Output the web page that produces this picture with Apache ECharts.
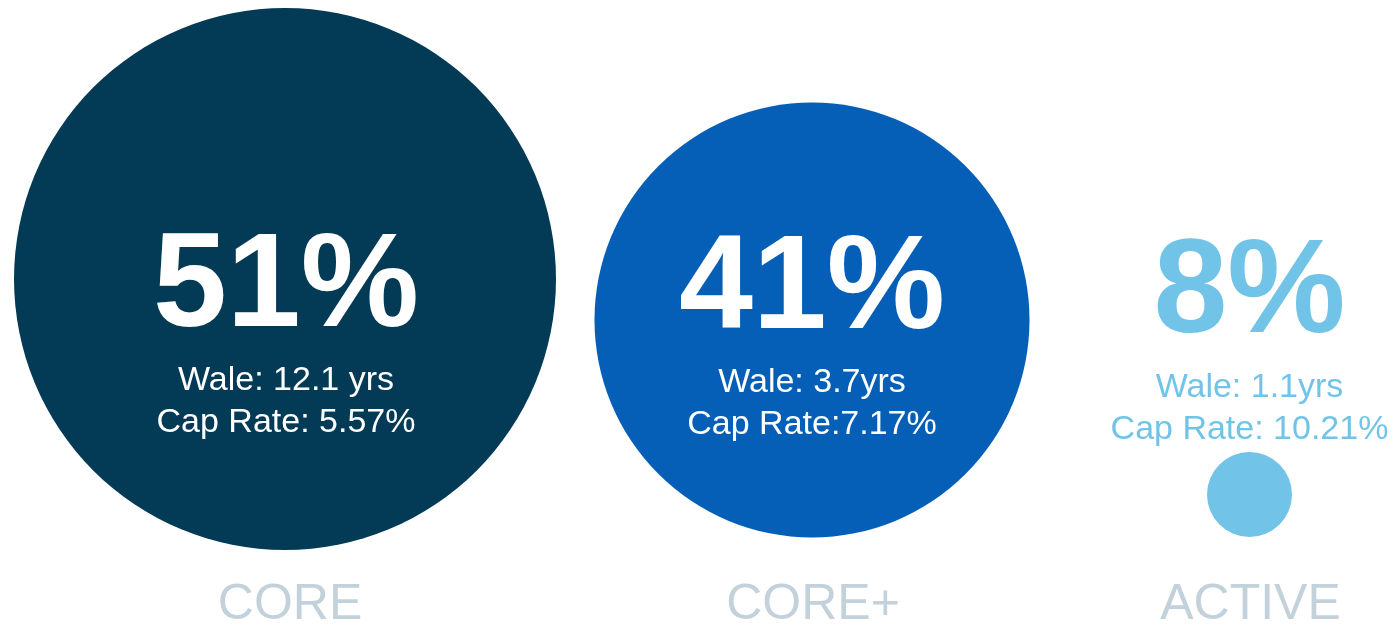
<!DOCTYPE html>
<html>
<head>
<meta charset="utf-8">
<title>Portfolio allocation by strategy</title>
<script src="https://cdn.jsdelivr.net/npm/echarts@6/dist/echarts.min.js"></script>
<style>
  html, body { margin: 0; padding: 0; background: #ffffff; }
  #chart { width: 1394px; height: 626px; }
</style>
</head>
<body>
<div id="chart"></div>
<script>
// Portfolio split by strategy
const categories = ['CORE', 'CORE+', 'ACTIVE'];
const shares = [51, 41, 8];                 // % of portfolio
const waleLabels = ['Wale: 12.1 yrs', 'Wale: 3.7yrs', 'Wale: 1.1yrs'];
const capRateLabels = ['Cap Rate: 5.57%', 'Cap Rate:7.17%', 'Cap Rate: 10.21%'];

// Presentation: bubble placement (in a 1394 x 626 frame), diameters, colours
const bubbleCenters = [[285, 279], [812, 320], [1249.5, 494.5]];
const bubbleDiameters = [542, 435, 85];
const bubbleColors = ['#033a56', '#055fb6', '#71c4e8'];
const textColors = ['#ffffff', '#ffffff', '#71c4e8'];
const labelOffsets = [[1, 52], [0, 13], [0, -157]];
const nameRowY = 605;
const nameColor = '#c3d1db';
const FONT = '"Liberation Sans", Arial, sans-serif';

const bubbleData = categories.map((name, i) => ({
  name: name,
  value: [bubbleCenters[i][0], bubbleCenters[i][1], shares[i]],
  symbolSize: bubbleDiameters[i],
  itemStyle: { color: bubbleColors[i], opacity: 1 },
  label: {
    show: true,
    position: 'inside',
    offset: labelOffsets[i],
    formatter: () => '{pct|' + shares[i] + '%}\n{sub|' + waleLabels[i] + '}\n{sub|' + capRateLabels[i] + '}',
    rich: {
      pct: { fontFamily: FONT, fontWeight: 'bold', fontSize: 133, lineHeight: 142, color: textColors[i], align: 'center' },
      sub: { fontFamily: FONT, fontSize: 34, lineHeight: 42, color: textColors[i], align: 'center' }
    }
  }
}));

const nameData = categories.map((name, i) => ({
  name: name,
  value: [bubbleCenters[i][0] + (i === 0 ? 5 : 1), nameRowY]
}));

const chart = echarts.init(document.getElementById('chart'), null, { renderer: 'canvas' });
chart.setOption({
  animation: false,
  backgroundColor: '#ffffff',
  grid: { left: 0, right: 0, top: 0, bottom: 0 },
  xAxis: { type: 'value', min: 0, max: 1394, show: false },
  yAxis: { type: 'value', min: 0, max: 626, inverse: true, show: false },
  series: [
    {
      type: 'scatter',
      data: bubbleData,
      emphasis: { disabled: true }
    },
    {
      type: 'scatter',
      symbolSize: 0,
      itemStyle: { opacity: 1 },
      data: nameData,
      label: {
        show: true,
        position: 'inside',
        formatter: (p) => p.name,
        fontFamily: FONT,
        fontSize: 50,
        color: nameColor
      },
      emphasis: { disabled: true }
    }
  ]
});
</script>
</body>
</html>
